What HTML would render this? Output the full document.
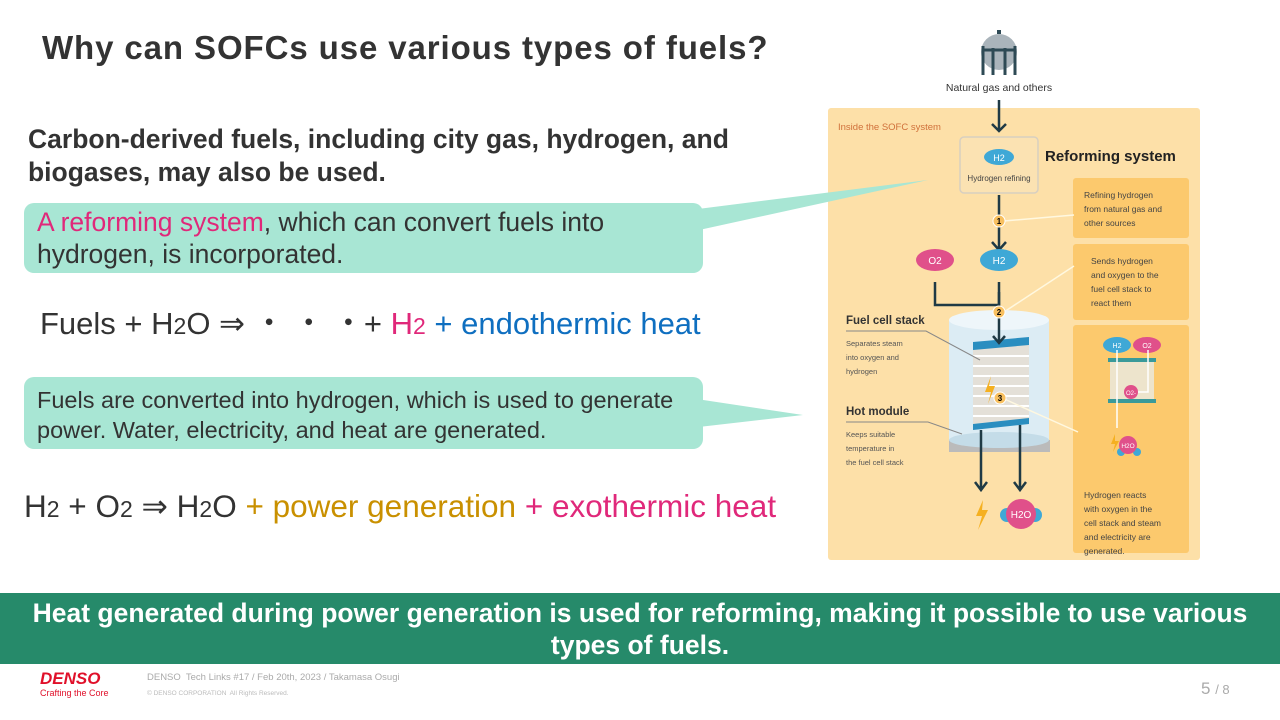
<!DOCTYPE html>
<html><head><meta charset="utf-8"><style>
body{margin:0;width:1280px;height:720px;position:relative;background:#fff;font-family:"Liberation Sans",sans-serif;overflow:hidden;color:#333}
.a{position:absolute;white-space:nowrap}
.box{position:absolute;background:#a8e6d4;border-radius:10px}
</style></head><body>
<div class="a" style="left:42px;top:29px;font-size:33px;font-weight:bold;color:#333;letter-spacing:0.9px">Why can SOFCs use various types of fuels?</div>
<div class="a" style="left:28px;top:123px;font-size:26.5px;font-weight:bold;line-height:33px;color:#333">Carbon-derived fuels, including city gas, hydrogen, and<br>biogases, may also be used.</div>

<svg style="position:absolute;left:828px;top:20px" width="380" height="545" font-family="Liberation Sans,sans-serif">
<rect x="0" y="88" width="372" height="452" rx="3" fill="#fde0a8"/>
<circle cx="171" cy="32" r="18" fill="#aab4bb"/>
<rect x="169" y="10" width="4" height="4" fill="#2e4a55"/>
<path d="M155 55V26M187 55V26M165 55V28M177 55V28M155 30H187" stroke="#2e4a55" stroke-width="3" fill="none"/>
<text x="171" y="71" font-size="10.5" text-anchor="middle" fill="#333">Natural gas and others</text>
<text x="10" y="110" font-size="9.5" fill="#d0703a">Inside the SOFC system</text>
<path d="M171 80V110M164 104L171 111L178 104" stroke="#1f3a45" stroke-width="2.5" fill="none"/>
<rect x="132" y="117" width="78" height="56" rx="4" fill="#fbe2b2" stroke="#d8cfc0" stroke-width="1.5"/>
<ellipse cx="171" cy="137" rx="15" ry="8" fill="#3fa8d6"/>
<text x="171" y="141" font-size="9" fill="#fff" text-anchor="middle">H2</text>
<text x="171" y="161" font-size="8" fill="#444" text-anchor="middle">Hydrogen refining</text>
<text x="217" y="141" font-size="15" font-weight="bold" fill="#222">Reforming system</text>
<rect x="245" y="158" width="116" height="60" rx="3" fill="#fcc96d"/>
<text font-size="8.5" fill="#444"><tspan x="256" y="178">Refining hydrogen</tspan><tspan x="256" y="192">from natural gas and</tspan><tspan x="256" y="206">other sources</tspan></text>
<rect x="245" y="224" width="116" height="76" rx="3" fill="#fcc96d"/>
<text font-size="8.5" fill="#444"><tspan x="263" y="244">Sends hydrogen</tspan><tspan x="263" y="258">and oxygen to the</tspan><tspan x="263" y="272">fuel cell stack to</tspan><tspan x="263" y="286">react them</tspan></text>
<rect x="245" y="305" width="116" height="228" rx="3" fill="#fcc96d"/>
<path d="M171 175V230M164 222L171 230L178 222M171 262V300M107 262V285H171" stroke="#1f3a45" stroke-width="2.5" fill="none"/>
<line x1="176" y1="201" x2="246" y2="195" stroke="#fff8e0" stroke-width="1.5"/>
<line x1="176" y1="292" x2="246" y2="246" stroke="#fff8e0" stroke-width="1.5"/>
<circle cx="171" cy="201" r="6" fill="#f8c060" stroke="#fff" stroke-width="1"/><text x="171" y="204" font-size="8" text-anchor="middle" font-weight="bold">1</text>
<ellipse cx="107" cy="240" rx="19" ry="11" fill="#e0508a"/><text x="107" y="244" font-size="10" fill="#fff" text-anchor="middle">O2</text>
<ellipse cx="171" cy="240" rx="19" ry="11" fill="#3fa8d6"/><text x="171" y="244" font-size="10" fill="#fff" text-anchor="middle">H2</text>
<path d="M121 300 Q171 288 221 300 V422 H121Z" fill="#dcecf4"/>
<ellipse cx="171" cy="300" rx="50" ry="10" fill="#eef6fa"/>
<rect x="121" y="420" width="101" height="12" fill="#bbb"/>
<ellipse cx="171" cy="420" rx="50" ry="8" fill="#c4dce8"/>
<rect x="145" y="324" width="56" height="80" fill="#e4e0d8"/>
<g stroke="#fff" stroke-width="2"><line x1="145" y1="336" x2="201" y2="336"/><line x1="145" y1="346" x2="201" y2="346"/><line x1="145" y1="356" x2="201" y2="356"/><line x1="145" y1="366" x2="201" y2="366"/><line x1="145" y1="376" x2="201" y2="376"/><line x1="145" y1="386" x2="201" y2="386"/><line x1="145" y1="396" x2="201" y2="396"/></g>
<polygon points="145,322 201,317 201,325 145,330" fill="#2a8ec0"/>
<polygon points="145,404 201,398 201,404 145,410" fill="#2a8ec0"/>
<path d="M171 272V322M165 316L171 323L177 316M153 410V470M147 462L153 470L159 462M192 405V470M186 462L192 470L198 462" stroke="#1f3a45" stroke-width="2.5" fill="none"/>
<circle cx="171" cy="292" r="6" fill="#f8c060" stroke="#fff"/><text x="171" y="295" font-size="8" text-anchor="middle" font-weight="bold">2</text>
<polygon points="163,356 157,372 163,372 160,384 167,366 161,366" fill="#f5b020"/>
<line x1="174" y1="378" x2="250" y2="412" stroke="#fff8e0" stroke-width="1.5"/>
<circle cx="172" cy="378" r="6" fill="#f8c060" stroke="#fff"/><text x="172" y="381" font-size="8" text-anchor="middle" font-weight="bold">3</text>
<polygon points="155,480 148,496 154,496 150,510 160,490 154,490" fill="#f5b020"/>
<circle cx="179" cy="495" r="7" fill="#3fa8d6"/><circle cx="207" cy="495" r="7" fill="#3fa8d6"/>
<circle cx="193" cy="494" r="15" fill="#e0508a"/><text x="193" y="498" font-size="10" fill="#fff" text-anchor="middle">H2O</text>
<text x="18" y="304" font-size="11.5" font-weight="bold" fill="#333">Fuel cell stack</text>
<path d="M18 311H98L152 340" stroke="#888" fill="none"/>
<text font-size="7.5" fill="#555"><tspan x="18" y="326">Separates steam</tspan><tspan x="18" y="340">into oxygen and</tspan><tspan x="18" y="354">hydrogen</tspan></text>
<text x="18" y="395" font-size="11.5" font-weight="bold" fill="#333">Hot module</text>
<path d="M18 402H100L134 414" stroke="#888" fill="none"/>
<text font-size="7.5" fill="#555"><tspan x="18" y="417">Keeps suitable</tspan><tspan x="18" y="431">temperature in</tspan><tspan x="18" y="445">the fuel cell stack</tspan></text>
<ellipse cx="289" cy="325" rx="14" ry="8" fill="#3fa8d6"/><text x="289" y="328" font-size="7" fill="#fff" text-anchor="middle">H2</text>
<ellipse cx="319" cy="325" rx="14" ry="8" fill="#e0508a"/><text x="319" y="328" font-size="7" fill="#fff" text-anchor="middle">O2</text>
<rect x="280" y="338" width="48" height="4" fill="#3a9a9a"/>
<rect x="282" y="342" width="44" height="37" fill="#ede4cc"/>
<rect x="280" y="379" width="48" height="4" fill="#3a9a9a"/>
<path d="M289 330V408M320 330V372H310" stroke="#fff" stroke-width="1.5" fill="none"/>
<circle cx="303" cy="372" r="7" fill="#e0508a"/><text x="303" y="375" font-size="6" fill="#fff" text-anchor="middle">O2-</text>
<polygon points="287,414 283,424 287,424 285,432 291,421 287,421" fill="#f5b020"/>
<circle cx="293" cy="432" r="4" fill="#3fa8d6"/><circle cx="309" cy="432" r="4" fill="#3fa8d6"/>
<circle cx="300" cy="425" r="9" fill="#e0508a"/><text x="300" y="428" font-size="6.5" fill="#fff" text-anchor="middle">H2O</text>
<text font-size="8.5" fill="#444"><tspan x="256" y="478">Hydrogen reacts</tspan><tspan x="256" y="492">with oxygen in the</tspan><tspan x="256" y="506">cell stack and steam</tspan><tspan x="256" y="520">and electricity are</tspan><tspan x="256" y="534">generated.</tspan></text>
</svg>

<svg style="position:absolute;left:0;top:0" width="1280" height="720">
<polygon points="690,210 928,180 690,232" fill="#a8e6d4"/>
<polygon points="690,398 803,415 690,428" fill="#a8e6d4"/>
</svg>
<div class="box" style="left:24px;top:203px;width:679px;height:70px"></div>
<div class="a" style="left:37px;top:206px;font-size:26.5px;line-height:32px;letter-spacing:0px">
<span style="color:#e0287a">A reforming system</span>, which can convert fuels into<br>hydrogen, is incorporated.</div>
<div class="a" style="left:40px;top:298px;font-size:31px">Fuels + H<span style="font-size:23px">2</span>O ⇒ ・ ・ ・+ <span style="color:#e0287a">H<span style="font-size:23px">2</span></span> <span style="color:#0f6fc0">+ endothermic heat</span></div>

<div class="box" style="left:24px;top:377px;width:679px;height:72px"></div>
<div class="a" style="left:37px;top:385px;font-size:23.5px;line-height:30px">Fuels are converted into hydrogen, which is used to generate<br>power. Water, electricity, and heat are generated.</div>
<div class="a" style="left:24px;top:488px;font-size:31.5px">H<span style="font-size:23px">2</span> + O<span style="font-size:23px">2</span> ⇒ H<span style="font-size:23px">2</span>O <span style="color:#c99000">+ power generation</span> <span style="color:#e0287a">+ exothermic heat</span></div>

<div style="position:absolute;left:0;top:593px;width:1280px;height:71px;background:#268a6a"></div>
<div class="a" style="left:0;top:597px;width:1280px;text-align:center;color:#fff;font-size:26.5px;font-weight:bold;line-height:32px;white-space:normal">Heat generated during power generation is used for reforming, making it possible to use various<br>types of fuels.</div>

<div class="a" style="left:40px;top:669px;font-size:17px;font-weight:bold;font-style:italic;color:#e0102a">DENSO</div>
<div class="a" style="left:40px;top:688px;font-size:9px;color:#e0102a">Crafting the Core</div>
<div class="a" style="left:147px;top:672px;font-size:9.5px;color:#aaa">DENSO&nbsp; Tech Links #17 / Feb 20th, 2023 / Takamasa Osugi</div>
<div class="a" style="left:147px;top:690px;font-size:6.5px;color:#bbb">© DENSO CORPORATION&nbsp; All Rights Reserved.</div>
<div class="a" style="left:1201px;top:679px;font-size:17px;color:#aaa">5 <span style="font-size:13px">/ 8</span></div>
</body></html>
